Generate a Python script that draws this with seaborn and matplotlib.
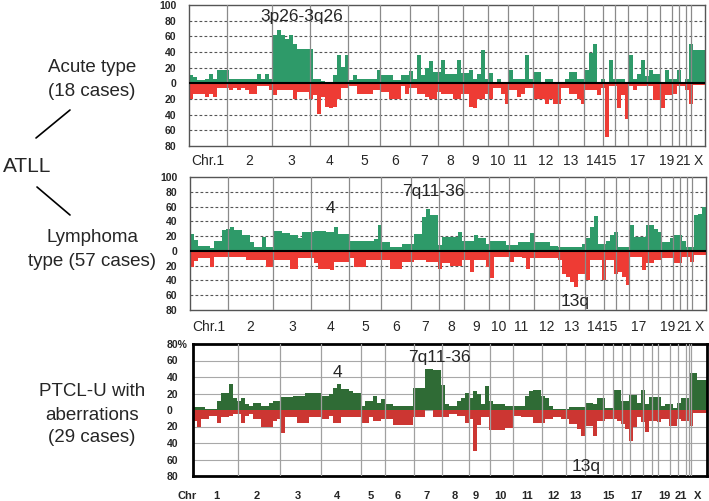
import numpy as np
import pandas as pd
import matplotlib.pyplot as plt
from matplotlib.lines import Line2D
import seaborn as sns

# ATLL panels: chromosome boundaries along the genome axis (axis units)
atll_bounds = [0, 38.3, 82.7, 121, 159.3, 191, 221, 249.3, 273.7, 299.3, 318.7, 343.7,
               369.3, 395, 413.7, 426, 439.3, 457.7, 471, 483.3, 490.3, 497, 501.7, 516]
atll_names = ["Chr.1", "2", "3", "4", "5", "6", "7", "8", "9", "10", "11", "12", "13",
              "14", "15", "", "17", "", "19", "", "21", "", "X"]

# PTCL-U panel: grid lines and label positions (axis units)
ptcl_lines = [45.3, 87, 127.7, 167.7, 191.5, 220.7, 248.5, 276.3, 297, 320.3, 348.7,
              372.5, 392, 409.7, 420.3, 428.7, 437, 450.3, 458.7, 465.3, 477, 485.3,
              493, 495.7, 498]
ptcl_label_pos = [23, 63.7, 105.3, 144.3, 177.7, 204.3, 233.7, 262, 283, 307, 334.3,
                  360.3, 382, 415.3, 443.7, 471, 488, 505]
ptcl_names = ["1", "2", "3", "4", "5", "6", "7", "8", "9", "10", "11", "12", "13",
              "15", "17", "19", "21", "X"]

bin_width = 4

# frequencies (%) per genome bin
acute_gain = [11, 8, 4, 4, 6, 12, 6, 17, 17, 17,
              5, 5, 5, 5, 5, 5, 5, 12, 5, 12,
              5, 62, 68, 62, 56, 62, 50, 44, 44, 44,
              44, 6, 6, 3, 1, 1, 11, 36, 21, 36,
              4, 11, 5, 5, 5, 5, 5, 17, 11, 11,
              11, 4, 4, 11, 11, 16, 6, 36, 11, 19,
              28, 15, 15, 30, 12, 12, 12, 30, 13, 13,
              17, 6, 12, 43, 6, 13, 1, 6, 1, 1,
              17, 6, 6, 6, 36, 6, 15, 15, 1, 6,
              6, 1, 1, 1, 6, 14, 14, 6, 6, 17,
              39, 50, 1, 6, 1, 30, 6, 6, 6, 1,
              36, 6, 12, 30, 9, 17, 12, 12, 1, 17,
              6, 6, 17, 1, 6, 50, 43, 43, 43]
acute_loss = [20, 13, 13, 13, 17, 13, 17, 6, 6, 6,
              9, 6, 9, 6, 9, 13, 13, 3, 3, 3,
              9, 15, 9, 9, 9, 9, 20, 11, 11, 11,
              20, 15, 39, 17, 30, 32, 30, 20, 6, 6,
              3, 3, 13, 13, 13, 13, 9, 9, 11, 11,
              20, 20, 20, 3, 13, 6, 6, 13, 13, 17,
              20, 20, 11, 13, 13, 13, 20, 20, 13, 13,
              30, 32, 20, 20, 13, 20, 6, 6, 13, 26,
              9, 9, 17, 13, 6, 6, 20, 20, 20, 26,
              20, 26, 26, 6, 6, 13, 13, 20, 26, 9,
              9, 9, 15, 6, 69, 3, 3, 32, 15, 45,
              3, 8, 3, 3, 3, 3, 21, 21, 32, 15,
              15, 13, 3, 3, 8, 26, 2, 2, 2]
lymph_gain = [23, 15, 6, 6, 6, 4, 14, 14, 28, 30,
              33, 28, 28, 21, 21, 12, 5, 5, 19, 5,
              5, 27, 27, 24, 24, 21, 21, 17, 26, 26,
              26, 27, 27, 27, 26, 26, 32, 23, 23, 23,
              14, 14, 14, 14, 14, 14, 16, 35, 12, 12,
              5, 5, 5, 9, 9, 9, 23, 23, 46, 57,
              48, 48, 8, 19, 19, 19, 19, 26, 14, 14,
              14, 21, 17, 17, 10, 14, 14, 14, 14, 8,
              8, 8, 12, 12, 12, 24, 12, 12, 12, 12,
              6, 6, 5, 5, 5, 5, 5, 5, 10, 18,
              32, 47, 10, 10, 14, 21, 26, 5, 5, 5,
              35, 19, 19, 19, 35, 35, 30, 25, 12, 12,
              17, 21, 21, 14, 5, 5, 48, 50, 59]
lymph_loss = [22, 14, 10, 10, 10, 22, 8, 8, 8, 8,
              8, 8, 8, 8, 12, 12, 12, 12, 12, 22,
              22, 13, 13, 13, 13, 24, 24, 10, 10, 10,
              10, 17, 24, 24, 24, 26, 15, 15, 15, 15,
              10, 22, 22, 22, 13, 13, 13, 13, 13, 13,
              24, 24, 24, 15, 15, 15, 13, 13, 13, 15,
              15, 15, 24, 17, 17, 21, 21, 21, 13, 13,
              28, 13, 13, 13, 22, 37, 8, 8, 8, 8,
              15, 8, 8, 10, 24, 10, 10, 10, 10, 10,
              10, 10, 13, 31, 36, 42, 49, 31, 31, 40,
              13, 13, 13, 40, 13, 13, 31, 28, 35, 46,
              8, 8, 8, 26, 17, 17, 13, 13, 10, 10,
              10, 17, 17, 8, 8, 15, 6, 6, 6]
ptcl_gain = [4, 4, 4, 1, 1, 1, 11, 21, 21, 31,
             15, 11, 15, 7, 5, 9, 9, 5, 5, 9,
             11, 11, 16, 16, 16, 17, 17, 17, 21, 21,
             21, 21, 17, 17, 19, 27, 31, 25, 25, 23,
             21, 21, 5, 11, 11, 17, 9, 13, 7, 7,
             5, 5, 5, 5, 5, 27, 27, 27, 50, 50,
             48, 48, 30, 7, 5, 5, 11, 15, 21, 15,
             23, 19, 7, 29, 11, 7, 7, 7, 5, 5,
             5, 5, 5, 17, 23, 24, 24, 17, 15, 5,
             1, 1, 1, 1, 4, 4, 4, 4, 9, 9,
             7, 15, 15, 3, 3, 24, 24, 11, 11, 18,
             18, 9, 24, 7, 16, 16, 16, 5, 7, 7,
             3, 9, 15, 15, 45, 45, 36, 36, 36]
ptcl_loss = [13, 20, 11, 11, 7, 7, 16, 9, 9, 7,
             5, 5, 16, 7, 5, 11, 11, 20, 20, 20,
             13, 11, 28, 9, 9, 9, 16, 16, 16, 9,
             9, 9, 11, 11, 7, 16, 16, 9, 9, 9,
             9, 9, 16, 16, 9, 13, 13, 11, 11, 11,
             18, 18, 18, 18, 18, 9, 9, 9, 0, 0,
             9, 9, 9, 9, 5, 5, 7, 7, 16, 11,
             50, 18, 9, 9, 24, 24, 24, 24, 22, 22,
             7, 7, 9, 9, 9, 16, 16, 16, 11, 11,
             9, 9, 11, 11, 17, 17, 23, 31, 19, 19,
             31, 13, 13, 11, 11, 11, 13, 17, 23, 37,
             21, 9, 15, 27, 13, 13, 15, 11, 11, 19,
             19, 11, 13, 13, 19, 4, 4, 4, 4]

sns.set_style("white")
plt.rcParams['font.family'] = ['Liberation Sans', 'DejaVu Sans']

W, H = 709, 501
fig = plt.figure(figsize=(W / 100, H / 100), dpi=100)


def fx(px):
    return px / W


def fy(py):
    return 1 - py / H


def draw_bars(ax, gain, loss, green, red):
    n = len(gain)
    edges = list(np.arange(n + 1) * bin_width)
    df = pd.DataFrame({"pos": np.arange(n) * bin_width + bin_width / 2,
                       "gain": gain, "loss": [-v for v in loss]})
    sns.histplot(data=df, x="pos", weights="gain", bins=edges, ax=ax, color=green,
                 alpha=1, linewidth=0, zorder=2)
    sns.histplot(data=df, x="pos", weights="loss", bins=edges, ax=ax, color=red,
                 alpha=1, linewidth=0, zorder=2)
    ax.set_xlabel('')
    ax.set_ylabel('')


# ---- ATLL panels ----
atll_panels = [
    (acute_gain, acute_loss, [189, 5, 516, 141], 6, [("3p26-3q26", 112.7, 85)]),
    (lymph_gain, lymph_loss, [190, 177, 516, 133], 7,
     [("4", 140, 58), ("7q11-36", 243, 80), ("13q", 385, -68)]),
]
centers_atll = [(a + b) / 2 for a, b in zip(atll_bounds[:-1], atll_bounds[1:])]
for gain, loss, (l, t, w, h), xpad, notes in atll_panels:
    ax = fig.add_axes([fx(l), fy(t + h), w / W, h / H])
    draw_bars(ax, gain, loss, "#2e9a69", "#ee3b34")
    ax.set_xlim(0, 516)
    ax.set_ylim(-80, 100)
    for v in [80, 60, 40, 20, -20, -40, -60]:
        ax.axhline(v, color="#555555", lw=0.8, ls=(0, (2.5, 2)), zorder=1)
    for b in atll_bounds[1:-1]:
        ax.axvline(b, color="#8a8a8a", lw=0.9, zorder=3)
    ax.axhline(0, color="black", lw=1.5, zorder=4)
    yt = [100, 80, 60, 40, 20, 0, -20, -40, -60, -80]
    ax.set_yticks(yt, [str(abs(v)) for v in yt], fontsize=7.5, fontweight='bold')
    ax.set_xticks(centers_atll, atll_names, fontsize=10)
    ax.tick_params(axis='y', length=0, pad=9)
    ax.tick_params(axis='x', length=0, pad=xpad)
    for s in ax.spines.values():
        s.set_color("#555555")
        s.set_linewidth(1)
    for txt, x, y in notes:
        ax.text(x, y, txt, fontsize=12.5, ha='center', va='center', zorder=5)

# ---- PTCL-U panel ----
ax3 = fig.add_axes([fx(193), fy(476), 514 / W, 132 / H])
draw_bars(ax3, ptcl_gain, ptcl_loss, "#2f6b35", "#cc3632")
ax3.set_xlim(0, 514)
ax3.set_ylim(-80, 80)
for v in [60, 40, 20, 0, -20, -40, -60]:
    ax3.axhline(v, color="#a8a8a8", lw=0.8, zorder=1)
for b in ptcl_lines:
    ax3.axvline(b, color="#a0a0a0", lw=0.9, zorder=3)
yt3 = [80, 60, 40, 20, 0, -20, -40, -60, -80]
ax3.set_yticks(yt3, ["80%"] + [str(abs(v)) for v in yt3[1:]], fontsize=7.5,
               fontweight='bold')
for lab in ax3.get_yticklabels():
    lab.set_ha('left')
ax3.set_xticks(ptcl_label_pos, ptcl_names, fontsize=8, fontweight='bold')
ax3.tick_params(axis='y', length=0, pad=19)
ax3.tick_params(axis='x', length=0, pad=11)
for s in ax3.spines.values():
    s.set_color("black")
    s.set_linewidth(2)
for txt, x, y in [("4", 144.3, 45), ("7q11-36", 246, 64), ("13q", 393, -69)]:
    ax3.text(x, y, txt, fontsize=12.5, ha='center', va='center', zorder=5)
fig.text(fx(187), fy(496), "Chr", fontsize=8, fontweight='bold', ha='center', va='center')

# ---- left-hand labels ----
fig.text(fx(92), fy(68), "Acute type", fontsize=13.5, ha='center', va='center')
fig.text(fx(92), fy(92), "(18 cases)", fontsize=13.5, ha='center', va='center')
fig.text(fx(27), fy(167), "ATLL", fontsize=15, ha='center', va='center')
fig.text(fx(92), fy(238), "Lymphoma", fontsize=13.5, ha='center', va='center')
fig.text(fx(92), fy(261), "type (57 cases)", fontsize=13.5, ha='center', va='center')
fig.text(fx(92), fy(392), "PTCL-U with", fontsize=13.5, ha='center', va='center')
fig.text(fx(92), fy(415), "aberrations", fontsize=13.5, ha='center', va='center')
fig.text(fx(92), fy(437), "(29 cases)", fontsize=13.5, ha='center', va='center')
fig.add_artist(Line2D([fx(70), fx(36)], [fy(110), fy(138)], color="black", lw=1.2))
fig.add_artist(Line2D([fx(37), fx(70)], [fy(187), fy(215)], color="black", lw=1.2))

fig.savefig("out.png", dpi=100)
